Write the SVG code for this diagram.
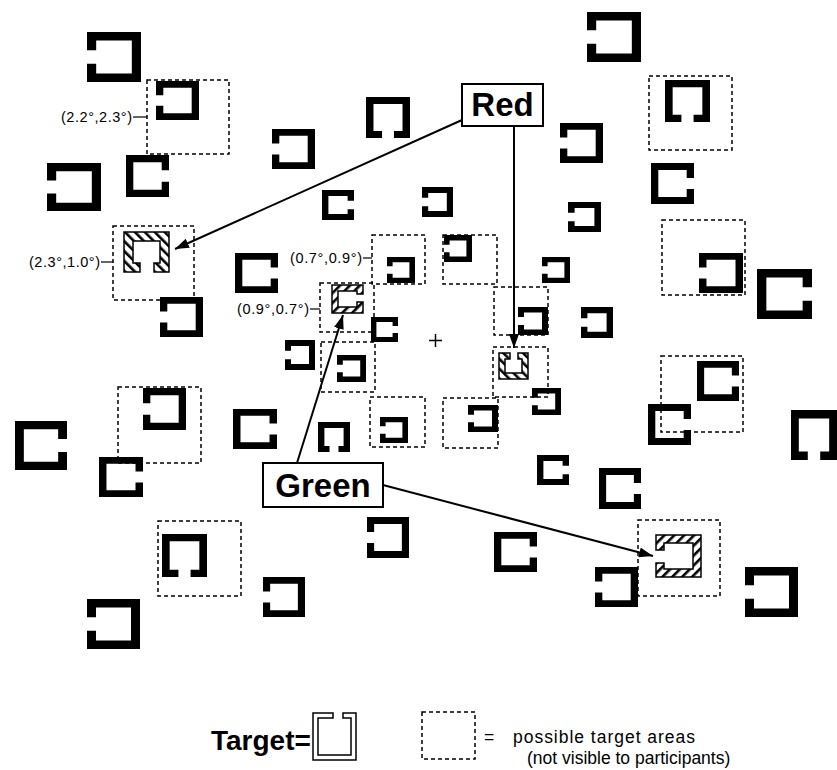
<svg xmlns="http://www.w3.org/2000/svg" xmlns:xlink="http://www.w3.org/1999/xlink" width="837" height="770" viewBox="0 0 837 770">
<style>
.area{fill:none;stroke:#000;stroke-width:1.5;stroke-dasharray:4 3}
.lbl{font-family:"Liberation Sans",Arial,Helvetica,sans-serif;font-size:14.5px;fill:#000}
.big{font-family:"Liberation Sans",Arial,Helvetica,sans-serif;font-weight:bold;fill:#000}
.leg{font-family:"Liberation Sans",Arial,Helvetica,sans-serif;font-size:17.5px;fill:#000}
.tick{stroke:#000;stroke-width:1.2;fill:none}
.conn{stroke:#000;stroke-width:2;fill:none;marker-end:url(#ah)}
.tgtR{fill:url(#hR);stroke:#000;stroke-width:1.5}
.tgtG{fill:url(#hG);stroke:#000;stroke-width:1.5}
.box{fill:#fff;stroke:#000;stroke-width:2}
</style>
<defs>
<symbol id="L" viewBox="0 0 100 100" preserveAspectRatio="none"><path d="M0 0H100V100H0V63.5H17V83H83V17H17V36.5H0Z"/></symbol>
<symbol id="R" viewBox="0 0 100 100" preserveAspectRatio="none"><path d="M100 0H0V100H100V63.5H83V83H17V17H83V36.5H100Z"/></symbol>
<symbol id="B" viewBox="0 0 100 100" preserveAspectRatio="none"><path d="M0 0H100V100H63.5V83H83V17H17V83H36.5V100H0Z"/></symbol>
<symbol id="Ls" viewBox="0 0 100 100" preserveAspectRatio="none"><path d="M0 0H100V100H0V64H20V80H80V20H20V36H0Z"/></symbol>
<symbol id="Rs" viewBox="0 0 100 100" preserveAspectRatio="none"><path d="M100 0H0V100H100V64H80V80H20V20H80V36H100Z"/></symbol>
<symbol id="Bs" viewBox="0 0 100 100" preserveAspectRatio="none"><path d="M0 0H100V100H64V80H80V20H20V80H36V100H0Z"/></symbol>
<pattern id="hR" width="7" height="7" patternUnits="userSpaceOnUse" patternTransform="rotate(-45)"><rect width="7" height="7" fill="#fff"/><rect width="2.6" height="7" fill="#000"/></pattern>
<pattern id="hG" width="7" height="7" patternUnits="userSpaceOnUse" patternTransform="rotate(45)"><rect width="7" height="7" fill="#fff"/><rect width="2.6" height="7" fill="#000"/></pattern>
<marker id="ah" markerUnits="userSpaceOnUse" markerWidth="15" markerHeight="10" refX="14" refY="5" orient="auto"><path d="M0 0L14 5L0 10Z" fill="#000"/></marker>
</defs>
<rect width="837" height="770" fill="#fff"/>

<g id="areas">
<rect class="area" x="147" y="80" width="82" height="74"/>
<rect class="area" x="113" y="226" width="81" height="74"/>
<rect class="area" x="649" y="76" width="83" height="74"/>
<rect class="area" x="662" y="220" width="83" height="75"/>
<rect class="area" x="118" y="387" width="83" height="76"/>
<rect class="area" x="661" y="356" width="82" height="76"/>
<rect class="area" x="158" y="521" width="83" height="75"/>
<rect class="area" x="638" y="520" width="82" height="76"/>
<rect class="area" x="372" y="235" width="53" height="49"/>
<rect class="area" x="443" y="235" width="54" height="49"/>
<rect class="area" x="320" y="283" width="54" height="49"/>
<rect class="area" x="321" y="342" width="54" height="50"/>
<rect class="area" x="370" y="397" width="55" height="50"/>
<rect class="area" x="443" y="398" width="55" height="50"/>
<rect class="area" x="494" y="287" width="54" height="48"/>
<rect class="area" x="493" y="347" width="55" height="50"/>
</g>

<g id="distractors">
<g id="d1"><use href="#L" x="87" y="32" width="54" height="50"/></g>
<g id="d2"><use href="#L" x="156" y="81" width="43" height="39"/></g>
<g id="d3"><use href="#R" x="126" y="155" width="43" height="42"/></g>
<g id="d4"><use href="#L" x="47" y="163" width="54" height="48"/></g>
<g id="d5"><use href="#L" x="272" y="129" width="43" height="40"/></g>
<g id="d6"><use href="#B" x="366" y="97" width="44" height="41"/></g>
<g id="d7"><use href="#L" x="587" y="12" width="54" height="50"/></g>
<g id="d8"><use href="#B" x="665" y="80" width="45" height="42"/></g>
<g id="d9"><use href="#L" x="560" y="123" width="43" height="40"/></g>
<g id="d10"><use href="#R" x="651" y="163" width="43" height="41"/></g>
<g id="d11"><use href="#Rs" x="322" y="190" width="32" height="30"/></g>
<g id="d12"><use href="#Ls" x="422" y="187" width="31" height="30"/></g>
<g id="d13"><use href="#Ls" x="568" y="202" width="33" height="30"/></g>
<g id="d14"><use href="#R" x="235" y="253" width="43" height="40"/></g>
<g id="d15"><use href="#Ls" x="387" y="257" width="28" height="26"/></g>
<g id="d16"><use href="#Ls" x="444" y="235" width="28" height="27"/></g>
<g id="d17"><use href="#Ls" x="542" y="257" width="28" height="26"/></g>
<g id="d18"><use href="#L" x="699" y="253" width="44" height="40"/></g>
<g id="d19"><use href="#R" x="757" y="269" width="55" height="50"/></g>
<g id="d20"><use href="#L" x="160" y="297" width="43" height="40"/></g>
<g id="d21"><use href="#Ls" x="518" y="307" width="30" height="28"/></g>
<g id="d22"><use href="#Ls" x="581" y="307" width="32" height="31"/></g>
<g id="d23"><use href="#Rs" x="371" y="317" width="27" height="25"/></g>
<g id="d24"><use href="#Ls" x="285" y="340" width="30" height="30"/></g>
<g id="d25"><use href="#Ls" x="337" y="355" width="29" height="27"/></g>
<g id="d26"><use href="#Ls" x="532" y="388" width="29" height="27"/></g>
<g id="d27"><use href="#L" x="143" y="388" width="43" height="42"/></g>
<g id="d28"><use href="#R" x="15" y="421" width="52" height="49"/></g>
<g id="d29"><use href="#R" x="233" y="409" width="44" height="40"/></g>
<g id="d30"><use href="#Bs" x="318" y="422" width="32" height="30"/></g>
<g id="d31"><use href="#Ls" x="380" y="417" width="28" height="26"/></g>
<g id="d32"><use href="#Ls" x="468" y="405" width="30" height="27"/></g>
<g id="d33"><use href="#R" x="697" y="361" width="42" height="40"/></g>
<g id="d34"><use href="#R" x="648" y="404" width="43" height="41"/></g>
<g id="d35"><use href="#B" x="791" y="410" width="46" height="50"/></g>
<g id="d36"><use href="#R" x="99" y="457" width="44" height="40"/></g>
<g id="d37"><use href="#Rs" x="537" y="455" width="32" height="30"/></g>
<g id="d38"><use href="#R" x="599" y="468" width="42" height="41"/></g>
<g id="d39"><use href="#L" x="367" y="517" width="42" height="41"/></g>
<g id="d40"><use href="#R" x="494" y="532" width="43" height="40"/></g>
<g id="d41"><use href="#B" x="162" y="534" width="45" height="43"/></g>
<g id="d42"><use href="#L" x="263" y="577" width="42" height="40"/></g>
<g id="d43"><use href="#L" x="87" y="599" width="53" height="50"/></g>
<g id="d44"><use href="#L" x="595" y="567" width="43" height="40"/></g>
<g id="d45"><use href="#L" x="745" y="567" width="53" height="50"/></g>
</g>

<g id="targets">
<g id="red-target-1"><path class="tgtR" d="M124 232H169V272H154V263H160V241H133V263H140V272H124Z"/></g>
<g id="red-target-2"><path class="tgtR" d="M499 353H510V359H505V373H522V359H518V353H528V379H499Z"/></g>
<g id="green-target-1"><path class="tgtG" d="M363 285H332V313H363V302H357V307H338V291H357V294H363Z"/></g>
<g id="green-target-2"><path class="tgtG" d="M656 535H701V577H656V563H664V569H693V543H664V550H656Z"/></g>
</g>

<g id="fixation"><path d="M429 340.5H442M435.5 334V347" stroke="#000" stroke-width="1.5"/></g>

<g id="eccentricity-labels">
<text class="lbl" x="132" y="122" text-anchor="end" textLength="71">(2.2°,2.3°)</text>
<path class="tick" d="M133 117H147"/>
<text class="lbl" x="100" y="267" text-anchor="end" textLength="71">(2.3°,1.0°)</text>
<path class="tick" d="M101 262H113"/>
<text class="lbl" x="362" y="263" text-anchor="end" textLength="72">(0.7°,0.9°)</text>
<path class="tick" d="M363 258H372"/>
<text class="lbl" x="309" y="314" text-anchor="end" textLength="72">(0.9°,0.7°)</text>
<path class="tick" d="M310 309H320"/>
</g>

<g id="connectors">
<line class="conn" x1="462" y1="120" x2="175" y2="249"/>
<line class="conn" x1="514" y1="126" x2="514" y2="348"/>
<line class="conn" x1="297" y1="463" x2="343" y2="315"/>
<line class="conn" x1="383" y1="485" x2="653" y2="556"/>
</g>

<g id="red">
<rect class="box" x="462" y="84" width="81" height="42"/>
<text class="big" x="502.5" y="116" font-size="33" text-anchor="middle">Red</text>
</g>
<g id="green">
<rect class="box" x="263" y="463" width="120" height="44"/>
<text class="big" x="323" y="497" font-size="33" text-anchor="middle">Green</text>
</g>

<g id="legend">
<text class="big" x="211" y="750" font-size="28">Target=</text>
<path d="M313 713H333V718H318V755H351V718H343V713H356V760H313Z" fill="#fff" stroke="#000" stroke-width="1.5"/>
<rect class="area" x="422" y="712" width="53" height="47"/>
<text class="leg" x="484" y="743">=<tspan x="513" textLength="182">possible target areas</tspan></text>
<text class="leg" x="527" y="764">(not visible to participants)</text>
</g>
</svg>
